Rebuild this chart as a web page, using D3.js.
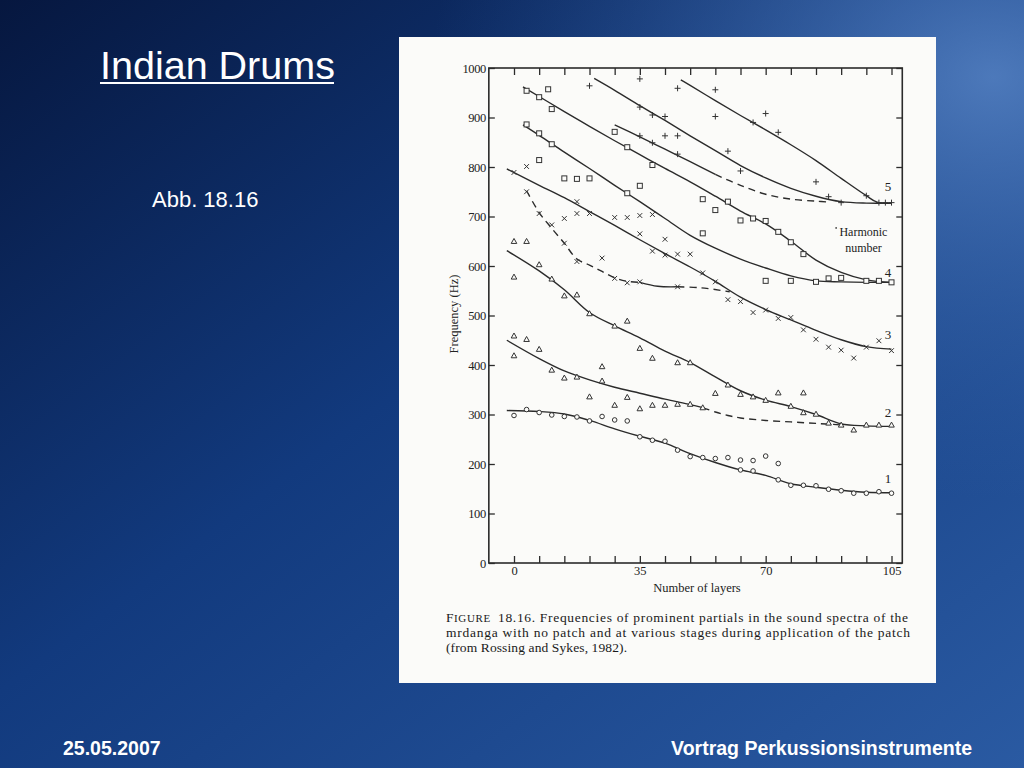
<!DOCTYPE html>
<html><head><meta charset="utf-8">
<script src="https://cdn.jsdelivr.net/npm/d3@7"></script>
<style>html,body{margin:0;padding:0;background:#123a7c;overflow:hidden}svg{display:block}</style>
</head><body>
<svg id="c" width="1024" height="768"></svg>
<script>
// ---------- data (layers, Hz) ----------
const xTicks = [0,7,14,21,28,35,42,49,56,63,70,77,84,91,98,105];
const xLabels = [0,35,70,105];
const yTicks = [0,100,200,300,400,500,600,700,800,900,1000];

const circles1 = [[0,298],[3.5,310],[7,304],[10.5,299],[14,296],[17.5,295],[21,287],[24.5,296],[28,289],[31.5,287],[35,255],[38.5,248],[42,246],[45.5,228],[49,215],[52.5,213],[56,211],[59.5,213],[63,208],[63,188],[66.5,207],[66.5,186],[70,216],[73.5,201],[73.5,168],[77,157],[80.5,157],[84,156],[87.5,149],[91,146],[94.5,141],[98,141],[101.5,144],[105,141]];
const triangles2 = [[0,650],[3.5,650],[7,603],[0,578],[10.5,574],[14,540],[17.5,542],[21,504],[0,459],[3.5,452],[0,419],[7,432],[10.5,390],[14,374],[17.5,376],[21,336],[24.5,397],[24.5,368],[28,479],[31.5,489],[35,434],[38.5,414],[45.5,405],[49,405],[28,319],[31.5,335],[35,312],[38.5,319],[42,319],[45.5,321],[49,321],[52.5,314],[56,343],[59.5,360],[63,341],[66.5,336],[70,329],[73.5,344],[77,317],[80.5,344],[80.5,304],[84,301],[87.5,283],[91,279],[94.5,269],[98,279],[101.5,279],[105,279]];
const crosses3 = [[0,789],[3.5,801],[3.5,750],[7,706],[10.5,683],[14,696],[17.5,730],[17.5,706],[21,706],[14,646],[17.5,609],[24.5,616],[28,575],[31.5,566],[35,568],[28,698],[31.5,698],[35,702],[38.5,704],[35,665],[42,654],[38.5,630],[42,622],[45.5,624],[49,624],[45.5,558],[52.5,586],[56,568],[59.5,532],[63,528],[66.5,506],[70,511],[73.5,494],[77,496],[80.5,471],[84,452],[87.5,436],[91,430],[94.5,414],[98,436],[101.5,449],[105,429]];
const squares4 = [[3.5,954],[7,941],[9.5,957],[10.5,917],[3.5,886],[7,868],[7,814],[10.5,846],[14,777],[17.5,776],[21,777],[28,871],[31.5,840],[38.5,804],[35,762],[31.5,747],[52.5,735],[59.5,730],[56,713],[63,692],[52.5,666],[66.5,696],[70,691],[73.5,669],[77,648],[80.5,624],[70,570],[77,570],[84,568],[87.5,575],[91,576],[98,570],[101.5,570],[105,567]];
const pluses5 = [[21,964],[35,978],[45.5,959],[56,956],[35,921],[38.5,905],[42,902],[56,902],[35,863],[42,863],[45.5,863],[38.5,849],[45.5,826],[59.5,832],[63,792],[66.5,890],[70,908],[73.5,870],[84,770],[87.5,740],[91,728],[98,742],[101.5,728],[103.3,728],[105,728]];

const curve1 = [[-2,308],[7,306],[14,301],[21,288],[28,271],[35,256],[42,242],[49,221],[56,203],[63,188],[70,177],[77,160],[84,153],[91,147],[98,143],[105,142]];
const curve2Upper = [[-2,631],[7,590],[14,552],[21,506],[28,479],[35,455],[42,428],[49,405],[56,376],[63,348],[70,329],[77,316],[84,300],[91,281],[98,277],[105,276]];
const curve2Lower = [[-2,450],[7,413],[14,388],[21,370],[28,355],[35,343],[42,331],[49,320],[52.5,314]];
const curve2LowerDash = [[52.5,314],[56,305],[59.5,298],[63,293],[70,288],[77,285],[84,282],[91,279]];
const curve3Upper = [[-2,796],[7,763],[14,738],[21,710],[28,682],[35,653],[42,625],[49,598],[56,569],[63,537],[70,512],[77,491],[84,470],[91,451],[98,437],[105,432]];
const curve3LowerDashA = [[3.5,752],[7,708],[10.5,676],[14,646],[17.5,614],[21,602],[24.5,589],[28,576],[31.5,569],[35,567]];
const curve3LowerSolid = [[35,567],[40,559],[45.5,558]];
const curve3LowerDashB = [[45.5,558],[52,556],[60,548]];
const curve4Upper = [[2.5,962],[14,912],[21,882],[28,853],[35,825],[42,797],[49,770],[56,741],[63,711],[70,685],[77,650],[84,612],[91,587],[98,572],[105,567]];
const curve4Lower = [[2.5,885],[7,864],[14,830],[21,797],[28,763],[35,730],[42,696],[49,662],[56,636],[63,614],[70,596],[77,580],[84,570],[91,568],[98,567],[105,567]];
const curve5Upper = [[46.4,976],[49,965],[56,934],[63,904],[70,875],[77,845],[84,813],[91,777],[98,742],[101,729],[105,727]];
const curve5Middle = [[22.3,979],[28,955],[35,924],[42,894],[49,863],[56,833],[63,803],[70,778],[77,757],[84,741],[91,730],[98,727],[105,727]];
const curve5LowerSolid = [[28,885],[35,861],[42,836],[49,811],[56,785]];
const curve5LowerDash = [[56,785],[63,763],[70,745],[77,735],[84,731],[88,729]];

const harmonicNames = ['1','2','3','4','5'];
const harmonicAnchors = [[104,172],[104,305],[104,463],[104,588],[104,762]];

// ---------- slide ----------
const svg = d3.select('#c');
const defs = svg.append('defs');
const lg = defs.append('linearGradient').attr('id','bg').attr('x1','0').attr('y1','0').attr('x2','1').attr('y2','1');
lg.append('stop').attr('offset','0').attr('stop-color','#06173f');
lg.append('stop').attr('offset','0.45').attr('stop-color','#123a7e');
lg.append('stop').attr('offset','1').attr('stop-color','#2a5aa2');
const rg = defs.append('radialGradient').attr('id','hl').attr('cx','0.97').attr('cy','0.1').attr('r','0.55');
rg.append('stop').attr('offset','0').attr('stop-color','#6a98d8').attr('stop-opacity',0.65);
rg.append('stop').attr('offset','1').attr('stop-color','#3a6ab0').attr('stop-opacity',0);
svg.append('rect').attr('width',1024).attr('height',768).attr('fill','url(#bg)');
svg.append('rect').attr('width',1024).attr('height',768).attr('fill','url(#hl)');

const sans = 'Liberation Sans, Arial, sans-serif';
svg.append('text').attr('x',100).attr('y',79).attr('fill','#fff').attr('font-family',sans).attr('font-size',39.5).text('Indian Drums');
svg.append('rect').attr('x',100).attr('y',82).attr('width',234).attr('height',2).attr('fill','#fff');
svg.append('text').attr('x',152).attr('y',207).attr('fill','#fff').attr('font-family',sans).attr('font-size',22).text('Abb. 18.16');
svg.append('text').attr('x',63).attr('y',755).attr('fill','#fff').attr('font-family',sans).attr('font-weight','bold').attr('font-size',19.5).text('25.05.2007');
svg.append('text').attr('x',972).attr('y',755).attr('text-anchor','end').attr('fill','#fff').attr('font-family',sans).attr('font-weight','bold').attr('font-size',19.5).text('Vortrag Perkussionsinstrumente');

// paper
svg.append('rect').attr('x',399).attr('y',37).attr('width',537).attr('height',646).attr('fill','#fbfbf9');

// ---------- chart ----------
const serif = 'Liberation Serif, Times New Roman, serif';
const ink = '#2b2b2b';
const x = d3.scaleLinear().domain([0,105]).range([514,891.5]);
const y = d3.scaleLinear().domain([0,1000]).range([563,68]);
const xLeft = x(-7), xRight = x(108);
const g = svg.append('g');

function styleAxis(sel){
  sel.select('.domain').remove();
  sel.selectAll('line').attr('stroke',ink).attr('stroke-width',1.3);
  sel.selectAll('text').attr('fill','#222').attr('font-family',serif).attr('font-size',12.5);
}
g.append('g').attr('transform',`translate(0,${y(0)})`)
  .call(d3.axisBottom(x).tickValues(xTicks).tickSize(-7).tickSizeOuter(0).tickPadding(3)
  .tickFormat(d => xLabels.includes(d) ? d : '')).call(styleAxis);
g.append('g').attr('transform',`translate(0,${y(1000)})`)
  .call(d3.axisTop(x).tickValues(xTicks).tickSize(-7).tickSizeOuter(0).tickFormat('')).call(styleAxis);
g.append('g').attr('transform',`translate(${xLeft},0)`)
  .call(d3.axisLeft(y).tickValues(yTicks).tickSize(-6).tickSizeOuter(0).tickPadding(3).tickFormat(d3.format('d'))).call(styleAxis)
  .selectAll('text').attr('letter-spacing',-0.4);
g.append('g').attr('transform',`translate(${xRight},0)`)
  .call(d3.axisRight(y).tickValues(yTicks).tickSize(-6).tickSizeOuter(0).tickFormat('')).call(styleAxis);
g.append('rect').attr('x',xLeft).attr('y',y(1000)).attr('width',xRight-xLeft).attr('height',y(0)-y(1000))
  .attr('fill','none').attr('stroke',ink).attr('stroke-width',1.6);

g.append('text').attr('x',697).attr('y',592).attr('text-anchor','middle').attr('font-family',serif).attr('font-size',12.5).attr('fill','#222').text('Number of layers');
g.append('text').attr('transform','translate(458,314) rotate(-90)').attr('text-anchor','middle').attr('font-family',serif).attr('font-size',12.5).attr('fill','#222').text('Frequency (Hz)');

// curves
const line = d3.line().x(d=>x(d[0])).y(d=>y(d[1])).curve(d3.curveCatmullRom.alpha(0.5));
const solid = [curve1, curve2Upper, curve2Lower, curve3Upper, curve3LowerSolid, curve4Upper, curve4Lower, curve5Upper, curve5Middle, curve5LowerSolid];
const dashed = [curve2LowerDash, curve3LowerDashA, curve3LowerDashB, curve5LowerDash];
g.selectAll('path.s').data(solid).join('path').attr('class','s').attr('d',line)
  .attr('fill','none').attr('stroke',ink).attr('stroke-width',1.4);
g.selectAll('path.d').data(dashed).join('path').attr('class','d').attr('d',line)
  .attr('fill','none').attr('stroke',ink).attr('stroke-width',1.4).attr('stroke-dasharray','7,5');

// markers
const mk = g.append('g').attr('fill','none').attr('stroke','#333').attr('stroke-width',1);
mk.selectAll('circle').data(circles1).join('circle').attr('cx',d=>x(d[0])).attr('cy',d=>y(d[1])).attr('r',2.3).attr('fill','#fbfbf9');
mk.selectAll('path.tri').data(triangles2).join('path').attr('class','tri')
  .attr('d',d=>{const cx=x(d[0]),cy=y(d[1]);return `M${cx},${cy-2.8}L${cx+2.8},${cy+2.2}L${cx-2.8},${cy+2.2}Z`;}).attr('fill','#fbfbf9');
mk.selectAll('path.x').data(crosses3).join('path').attr('class','x')
  .attr('d',d=>{const cx=x(d[0]),cy=y(d[1]),r=2.4;return `M${cx-r},${cy-r}L${cx+r},${cy+r}M${cx+r},${cy-r}L${cx-r},${cy+r}`;});
mk.selectAll('rect').data(squares4).join('rect').attr('x',d=>x(d[0])-2.5).attr('y',d=>y(d[1])-2.5).attr('width',5).attr('height',5).attr('fill','#fbfbf9');
mk.selectAll('path.p').data(pluses5).join('path').attr('class','p')
  .attr('d',d=>{const cx=x(d[0]),cy=y(d[1]),r=3;return `M${cx-r},${cy}L${cx+r},${cy}M${cx},${cy-r}L${cx},${cy+r}`;});

// harmonic labels
g.selectAll('text.h').data(harmonicNames).join('text').attr('class','h')
  .attr('x',(d,i)=>x(harmonicAnchors[i][0])).attr('y',(d,i)=>y(harmonicAnchors[i][1])+5)
  .attr('text-anchor','middle').attr('font-family',serif).attr('font-size',13).attr('fill','#222').text(d=>d);
g.append('circle').attr('cx',x(89.6)).attr('cy',y(677)).attr('r',0.9).attr('fill','#444');
g.append('text').attr('x',x(97.2)).attr('y',y(669)+4).attr('text-anchor','middle').attr('font-family',serif).attr('font-size',12).attr('fill','#222').text('Harmonic');
g.append('text').attr('x',x(97.2)).attr('y',y(636)+4).attr('text-anchor','middle').attr('font-family',serif).attr('font-size',12).attr('fill','#222').text('number');

// caption
const cap = svg.append('g').attr('font-family',serif).attr('fill','#1a1a1a');
const t1 = cap.append('text').attr('x',446).attr('y',621.5).attr('font-size',13.5).attr('letter-spacing',0.6);
t1.append('tspan').text('F');
t1.append('tspan').attr('font-size',11).text('IGURE');
cap.append('text').attr('x',498).attr('y',621.5).attr('font-size',13.5).attr('textLength',410).attr('lengthAdjust','spacing')
  .text('18.16. Frequencies of prominent partials in the sound spectra of the');
cap.append('text').attr('x',446).attr('y',636.5).attr('font-size',13.5).attr('textLength',464).attr('lengthAdjust','spacing')
  .text('mrdanga with no patch and at various stages during application of the patch');
cap.append('text').attr('x',446).attr('y',651.5).attr('font-size',13.5).attr('textLength',181).attr('lengthAdjust','spacing')
  .text('(from Rossing and Sykes, 1982).');
</script>
</body></html>
